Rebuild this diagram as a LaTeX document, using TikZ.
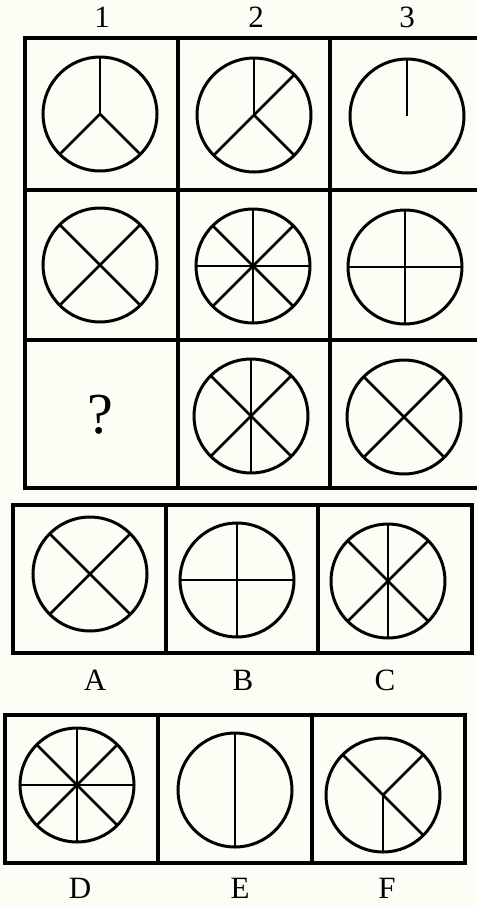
\documentclass[tikz,border=0pt]{standalone}
\usepackage{fontspec}
\setmainfont{Liberation Serif}
\begin{document}
\begin{tikzpicture}[x=1pt,y=-1pt,
  circ/.style={draw,circle,line width=3.0pt,minimum size=114pt,inner sep=0pt,outer sep=0pt},
  spoke/.style={line width=2.8pt},
  frame/.style={line width=3.3pt},
  lab/.style={font=\fontsize{31}{31}\selectfont,inner sep=0pt},
  qmark/.style={font=\fontsize{58}{58}\selectfont,inner sep=0pt}]
\fill[fill={rgb,255:red,253;green,253;blue,246}] (0,0) rectangle (477,906);
\useasboundingbox (0,0) rectangle (477,906);
\clip (0,0) rectangle (477,906);
% column labels
\node[lab] (n1) at (102,17) {1};
\node[lab] (n2) at (256,17) {2};
\node[lab] (n3) at (407,17) {3};
% top grid
\draw[frame] (25,38) rectangle (484,488);
\draw[frame] (178,38) -- (178,488) (330,38) -- (330,488);
\draw[frame] (25,190) -- (484,190) (25,340) -- (484,340);
% row 1
\node[circ] (c11) at (100,114) {};
\foreach \a in {90,225,315} \draw[spoke] (c11.center) -- (c11.\a);
\node[circ] (c12) at (254,115) {};
\foreach \a in {90,45,225,315} \draw[spoke] (c12.center) -- (c12.\a);
\node[circ] (c13) at (407,116) {};
\draw[spoke] (c13.center) -- (c13.90);
% row 2
\node[circ] (c21) at (100,265) {};
\foreach \a in {45,135,225,315} \draw[spoke] (c21.center) -- (c21.\a);
\node[circ] (c22) at (253,266) {};
\foreach \a in {0,45,...,315} \draw[spoke] (c22.center) -- (c22.\a);
\node[circ] (c23) at (405,267) {};
\foreach \a in {0,90,180,270} \draw[spoke] (c23.center) -- (c23.\a);
% row 3
\node[qmark] (q) at (100,415) {?};
\node[circ] (c32) at (251,416) {};
\foreach \a in {45,90,135,225,270,315} \draw[spoke] (c32.center) -- (c32.\a);
\node[circ] (c33) at (404,417) {};
\foreach \a in {45,135,225,315} \draw[spoke] (c33.center) -- (c33.\a);
% answers row 1
\draw[frame] (13,505) rectangle (472,653);
\draw[frame] (166,505) -- (166,653) (318,505) -- (318,653);
\node[circ] (ca) at (90,574) {};
\foreach \a in {45,135,225,315} \draw[spoke] (ca.center) -- (ca.\a);
\node[circ] (cb) at (237,580) {};
\foreach \a in {0,90,180,270} \draw[spoke] (cb.center) -- (cb.\a);
\node[circ] (cc) at (388,581) {};
\foreach \a in {45,90,135,225,270,315} \draw[spoke] (cc.center) -- (cc.\a);
\node[lab] (la) at (95,680) {A};
\node[lab] (lb) at (243,680) {B};
\node[lab] (lc) at (385,680) {C};
% answers row 2
\draw[frame] (5,715) rectangle (465,863);
\draw[frame] (158,715) -- (158,863) (312,715) -- (312,863);
\node[circ] (cd) at (77,785) {};
\foreach \a in {0,45,...,315} \draw[spoke] (cd.center) -- (cd.\a);
\node[circ] (ce) at (235,790) {};
\foreach \a in {90,270} \draw[spoke] (ce.center) -- (ce.\a);
\node[circ] (cf) at (383,795) {};
\foreach \a in {45,135,270,315} \draw[spoke] (cf.center) -- (cf.\a);
\node[lab] (ld) at (80,888) {D};
\node[lab] (le) at (240,888) {E};
\node[lab] (lf) at (387,888) {F};
\end{tikzpicture}
\end{document}
